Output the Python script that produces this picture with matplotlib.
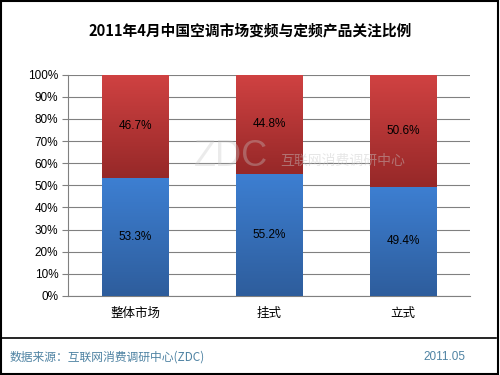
import numpy as np
import matplotlib
matplotlib.use('Agg')
import matplotlib.pyplot as plt
from matplotlib.patches import Rectangle
from matplotlib.lines import Line2D

plt.rcParams['font.family'] = ['Noto Sans CJK SC', 'DejaVu Sans']
num_font = ['Liberation Sans', 'DejaVu Sans']

categories = ['整体市场', '挂式', '立式']
inverter = [53.3, 55.2, 49.4]    # 变频 (blue, bottom)
fixed = [46.7, 44.8, 50.6]       # 定频 (red, top)
yticks = list(range(0, 101, 10))

fig = plt.figure(figsize=(5, 3.75), dpi=100)
ax = fig.add_axes([0.136, 0.2107, 0.804, 0.59])

x = np.arange(len(categories))
w = 0.5
blue = ax.bar(x, inverter, w, color='#3a78c8', zorder=2)
red = ax.bar(x, fixed, w, bottom=inverter, color='#b83434', zorder=2)

# vertical gradient on each bar
def shade(bars, top_col, bot_col):
    grad = np.linspace(0, 1, 256).reshape(-1, 1)
    c1 = np.array(matplotlib.colors.to_rgb(bot_col))
    c2 = np.array(matplotlib.colors.to_rgb(top_col))
    img = c1 + (c2 - c1) * grad[..., None]
    img = img.reshape(256, 1, 3)
    for b in bars:
        x0, y0 = b.get_x(), b.get_y()
        im = ax.imshow(img, extent=[x0, x0 + b.get_width(), y0, y0 + b.get_height()],
                       origin='lower', aspect='auto', zorder=3)
        im.set_clip_path(b)

shade(blue, '#3d7fd2', '#2e5d9c')
shade(red, '#d04242', '#962828')

for i in range(len(categories)):
    ax.text(x[i], inverter[i] / 2, f'{inverter[i]}%', ha='center', va='center',
            fontsize=8.5, color='black', zorder=5, family=num_font)
    ax.text(x[i], inverter[i] + fixed[i] / 2, f'{fixed[i]}%', ha='center', va='center',
            fontsize=8.5, color='black', zorder=5, family=num_font)

ax.set_xlim(-0.5, 2.5)
ax.set_ylim(0, 100)
ax.set_yticks(yticks)
ax.set_yticklabels([f'{v}%' for v in yticks], fontsize=8.5, family=num_font)
ax.set_xticks(x)
ax.set_xticklabels(categories, fontsize=9)
ax.tick_params(axis='x', length=0, pad=8)
ax.tick_params(axis='y', length=4, color='#808080', pad=3)
ax.grid(axis='y', color='#808080', linewidth=0.8, zorder=0)
ax.set_axisbelow(True)
for s in ['top', 'right']:
    ax.spines[s].set_visible(False)
ax.spines['left'].set_color('#808080')
ax.spines['bottom'].set_color('#808080')

# watermark
ax.text(0.72, 63, 'ZDC', fontsize=26, color='#c8c8c8', alpha=0.35, ha='center', va='center',
        zorder=6, family=num_font)
ax.text(1.55, 61, '互联网消费调研中心', fontsize=10, color='#c8c8c8', alpha=0.45, ha='center',
        va='center', zorder=6)

fig.text(0.5, 0.92, '2011年4月中国空调市场变频与定频产品关注比例', ha='center', va='center',
         fontsize=10.6, fontweight='bold')

# footer line and texts
fig.add_artist(Line2D([0.0, 0.992], [0.099, 0.099], color='black', linewidth=1.2))
fig.text(0.02, 0.047, '数据来源：互联网消费调研中心(ZDC)', ha='left', va='center',
         fontsize=8.5, color='#4f83a3')
fig.text(0.93, 0.047, '2011.05', ha='right', va='center', fontsize=8.5, color='#4f83a3',
         family=num_font)

# outer border
fig.add_artist(Rectangle((0.002, 0.003), 0.994, 0.994, transform=fig.transFigure,
                         fill=False, edgecolor='black', linewidth=1.5))

fig.savefig('out.png', dpi=100)
